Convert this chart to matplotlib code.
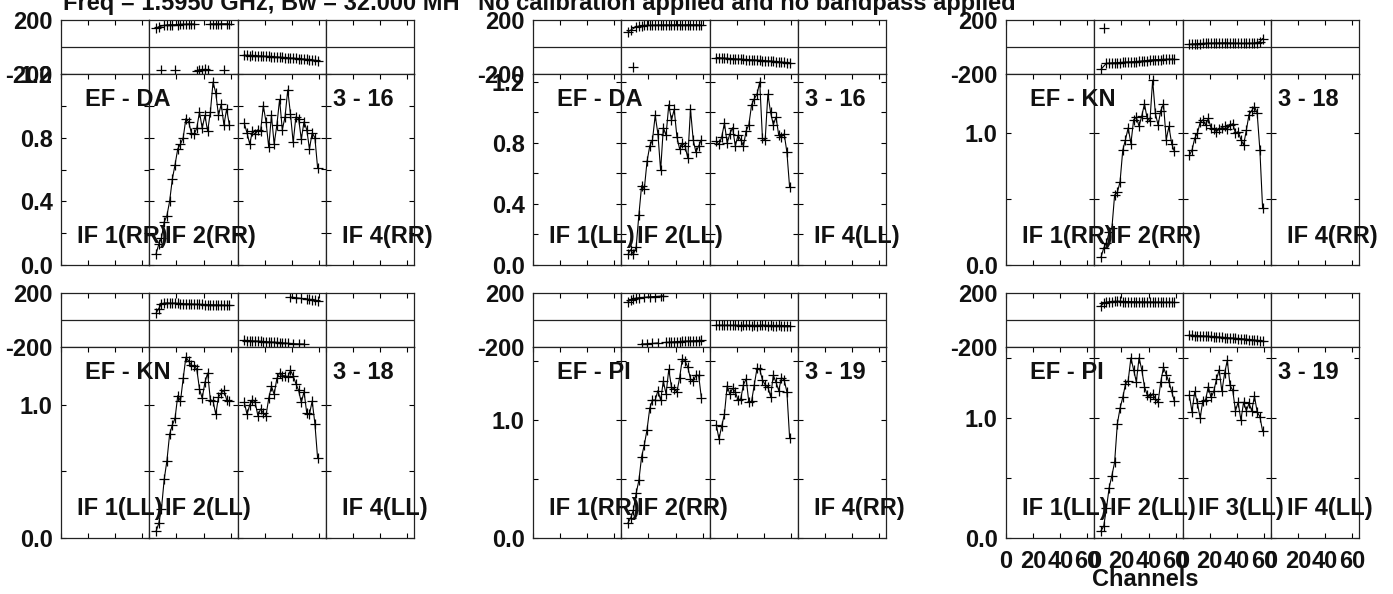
import numpy as np
import matplotlib
matplotlib.use("Agg")
import matplotlib.pyplot as plt

W, H = 1393, 594
FONT = ["Liberation Sans", "DejaVu Sans"]
plt.rcParams["font.family"] = FONT
plt.rcParams["font.weight"] = "bold"
FS = 17
INK = "#111111"
EDGE = "#222222"

# channel numbers sampled in every IF
CHANNELS = [5, 7, 9, 11, 13, 15, 17, 19, 21, 23, 25, 27, 29, 31,
            33, 35, 37, 39, 41, 43, 45, 47, 49, 51, 53, 55, 57, 59]

# EF - DA, RR
AMP_DA_RR_IF2 = [0.07, 0.13, 0.17, 0.27, 0.31, 0.40, 0.54, 0.63, 0.73, 0.76, 0.80, 0.92, 0.90, 0.83,
                 0.82, 0.86, 0.96, 0.86, 0.94, 0.84, 0.96, 1.15, 1.08, 0.94, 1.01, 0.88, 0.98, 0.88]
AMP_DA_RR_IF3 = [0.89, 0.83, 0.76, 0.84, 0.82, 0.85, 0.84, 1.00, 0.90, 0.74, 0.94, 0.76, 0.88, 1.04,
                 0.85, 0.93, 1.10, 0.95, 0.77, 0.93, 0.92, 0.79, 0.90, 0.85, 0.73, 0.83, 0.80, 0.61]
PH_DA_RR_IF2 = [140, 150, -172, 160, 163, 165, 165, -172, 165, 168, 168, 168, 170, 170,
                170, -175, -168, -170, -165, -170, 172, 170, 172, 170, 172, -172, 172, 170]
PH_DA_RR_IF3 = [-60, -62, -63, -62, -65, -66, -66, -68, -70, -70, -72, -73, -74, -76,
                -77, -79, -80, -82, -83, -85, -86, -88, -90, -92, -94, -96, -99, -105]

# EF - DA, LL
AMP_DA_LL_IF2 = [0.07, 0.10, 0.07, 0.12, 0.33, 0.52, 0.50, 0.68, 0.78, 0.82, 0.98, 0.86, 0.62, 0.90,
                 0.85, 1.05, 0.95, 1.02, 0.84, 0.76, 0.80, 0.78, 0.70, 1.02, 0.82, 0.74, 0.78, 0.82]
AMP_DA_LL_IF3 = [0.81, 0.79, 0.84, 0.93, 0.80, 0.86, 0.90, 0.78, 0.85, 0.82, 0.78, 0.88, 0.92, 1.05,
                 1.09, 1.12, 1.20, 0.83, 0.82, 1.12, 1.00, 0.92, 0.97, 0.85, 0.84, 0.86, 0.74, 0.51]
PH_DA_LL_IF2 = [112, 125, -146, 150, 155, 158, 160, 160, 160, 162, 162, 163, 163, 163,
                164, 163, 164, 164, 165, 165, 163, 164, 165, 165, 164, 165, 163, 163]
PH_DA_LL_IF3 = [-78, -80, -82, -83, -84, -86, -87, -88, -90, -90, -92, -93, -94, -95,
                -96, -98, -99, -100, -102, -103, -104, -106, -108, -110, -112, -114, -116, -118]

# EF - KN, RR
AMP_KN_RR_IF2 = [0.06, 0.13, 0.17, 0.25, 0.28, 0.53, 0.55, 0.63, 0.87, 0.95, 1.04, 0.92, 1.10, 1.12,
                 1.05, 1.13, 1.22, 1.11, 1.09, 1.40, 1.15, 1.06, 1.17, 1.22, 0.95, 1.05, 0.92, 0.86]
AMP_KN_RR_IF3 = [0.83, 0.87, 0.96, 1.00, 1.08, 1.10, 1.06, 1.11, 1.04, 1.03, 1.01, 1.03, 1.04, 1.05,
                 1.03, 1.06, 1.07, 1.00, 1.01, 0.95, 0.91, 1.02, 1.14, 1.17, 1.20, 1.15, 0.87, 0.43]
PH_KN_RR_IF2 = [-165, 143, -120, -120, -118, -117, -116, -115, -114, -112, -112, -110, -109, -108,
                -106, -104, -102, -100, -97, -95, -94, -93, -93, -92, -92, -91, -91, -90]
PH_KN_RR_IF3 = [20, 22, 23, 25, 25, 26, 27, 28, 28, 29, 29, 30, 30, 31,
                30, 29, 29, 28, 28, 27, 27, 27, 28, 28, 29, 32, 40, 62]

# EF - KN, LL
AMP_KN_LL_IF2 = [0.05, 0.11, 0.22, 0.44, 0.58, 0.78, 0.85, 0.90, 1.07, 1.03, 1.20, 1.36, 1.33, 1.30,
                 1.29, 1.27, 1.12, 1.05, 1.17, 1.24, 1.04, 1.03, 0.93, 1.06, 1.09, 1.11, 1.04, 1.03]
AMP_KN_LL_IF3 = [1.02, 0.93, 1.00, 1.04, 1.02, 0.92, 0.97, 0.94, 0.92, 1.05, 1.14, 1.08, 1.20, 1.24,
                 1.22, 1.22, 1.21, 1.26, 1.22, 1.16, 1.11, 1.02, 1.10, 0.94, 0.93, 1.03, 0.86, 0.60]
PH_KN_LL_IF2 = [50, 85, 118, 125, 126, 125, 124, 124, 123, 122, 120, 120, 119, 118,
                117, 116, 115, 115, 114, 113, 113, 112, 112, 111, 110, 110, 108, 108]
PH_KN_LL_IF3 = [-150, -152, -153, -155, -156, -157, -158, -160, -161, -162, -164, -165, -166, -168,
                -170, -171, -173, 170, -175, 165, -177, 160, -178, 155, 152, 150, 148, 140]

# EF - PI, RR
AMP_PI_RR_IF2 = [0.13, 0.17, 0.24, 0.38, 0.49, 0.69, 0.79, 0.92, 1.10, 1.17, 1.17, 1.25, 1.17, 1.33,
                 1.22, 1.43, 1.28, 1.26, 1.24, 1.36, 1.52, 1.50, 1.45, 1.35, 1.33, 1.38, 1.38, 1.19]
AMP_PI_RR_IF3 = [0.96, 0.84, 0.95, 1.05, 1.29, 1.22, 1.27, 1.24, 1.17, 1.18, 1.30, 1.35, 1.15, 1.16,
                 1.30, 1.44, 1.43, 1.34, 1.30, 1.28, 1.20, 1.38, 1.32, 1.25, 1.36, 1.34, 1.24, 0.85]
PH_PI_RR_IF2 = [135, 150, 158, 162, 165, -178, 168, -176, 172, -174, 174, -170, 176, 178,
                -166, -165, -163, -162, -160, -160, -158, -157, -156, -155, -154, -153, -152, -150]
PH_PI_RR_IF3 = [-38, -39, -39, -40, -39, -40, -40, -39, -40, -41, -40, -39, -40, -41,
                -40, -41, -40, -39, -40, -41, -40, -41, -41, -40, -41, -42, -41, -42]

# EF - PI, LL
AMP_PI_LL_IF2 = [0.06, 0.10, 0.25, 0.42, 0.52, 0.63, 0.95, 1.08, 1.17, 1.28, 1.31, 1.50, 1.40, 1.30,
                 1.50, 1.40, 1.26, 1.19, 1.17, 1.20, 1.16, 1.13, 1.30, 1.42, 1.36, 1.30, 1.22, 1.14]
AMP_PI_LL_IF3 = [1.19, 1.05, 1.22, 1.12, 1.00, 1.14, 1.15, 1.26, 1.17, 1.22, 1.32, 1.40, 1.22, 1.37,
                 1.48, 1.27, 1.23, 1.06, 1.13, 0.98, 1.13, 1.06, 1.12, 1.06, 1.18, 1.05, 1.01, 0.89]
PH_PI_LL_IF2 = [105, 125, 132, 135, 137, 138, 138, 138, 137, 137, 136, 136, 135, 135,
                134, 134, 134, 133, 133, 133, 132, 132, 132, 131, 131, 132, 131, 130]
PH_PI_LL_IF3 = [-112, -113, -115, -116, -117, -118, -120, -121, -122, -124, -125, -127, -128, -130,
                -131, -133, -134, -136, -138, -139, -141, -143, -145, -147, -149, -151, -153, -156]

X_TICKS = [0, 20, 40, 60]
X_TICK_LABELS = ["0", "20", "40", "60"]

# layout (pixels)
GROUP_X = [61, 533, 1006]
ROW_Y = [20, 293]
IF_W = 88.25
PHASE_H = 54
AMP_H = 191

PANELS = [
    dict(row=0, col=0, base="EF - DA", num="3 - 16", pol="RR", ytop=1.20, step=0.2, labels=[0.0, 0.4, 0.8, 1.2],
         ifs=[1, 2, 4], amp=(AMP_DA_RR_IF2, AMP_DA_RR_IF3), ph=(PH_DA_RR_IF2, PH_DA_RR_IF3)),
    dict(row=0, col=1, base="EF - DA", num="3 - 16", pol="LL", ytop=1.252, step=0.2, labels=[0.0, 0.4, 0.8, 1.2],
         ifs=[1, 2, 4], amp=(AMP_DA_LL_IF2, AMP_DA_LL_IF3), ph=(PH_DA_LL_IF2, PH_DA_LL_IF3)),
    dict(row=0, col=2, base="EF - KN", num="3 - 18", pol="RR", ytop=1.447, step=0.5, labels=[0.0, 1.0],
         ifs=[1, 2, 4], amp=(AMP_KN_RR_IF2, AMP_KN_RR_IF3), ph=(PH_KN_RR_IF2, PH_KN_RR_IF3)),
    dict(row=1, col=0, base="EF - KN", num="3 - 18", pol="LL", ytop=1.436, step=0.5, labels=[0.0, 1.0],
         ifs=[1, 2, 4], amp=(AMP_KN_LL_IF2, AMP_KN_LL_IF3), ph=(PH_KN_LL_IF2, PH_KN_LL_IF3)),
    dict(row=1, col=1, base="EF - PI", num="3 - 19", pol="RR", ytop=1.62, step=0.5, labels=[0.0, 1.0],
         ifs=[1, 2, 4], amp=(AMP_PI_RR_IF2, AMP_PI_RR_IF3), ph=(PH_PI_RR_IF2, PH_PI_RR_IF3)),
    dict(row=1, col=2, base="EF - PI", num="3 - 19", pol="LL", ytop=1.59, step=0.5, labels=[0.0, 1.0],
         ifs=[1, 2, 3, 4], amp=(AMP_PI_LL_IF2, AMP_PI_LL_IF3), ph=(PH_PI_LL_IF2, PH_PI_LL_IF3)),
]


def px_axes(fig, x, y, w, h):
    return fig.add_axes([x / W, 1 - (y + h) / H, w / W, h / H])


def fig_text(fig, x, y, s, **kw):
    fig.text(x / W, 1 - y / H, s, fontsize=FS, fontweight="bold", color=INK, **kw)


def style_box(ax):
    for sp in ax.spines.values():
        sp.set_linewidth(0.9)
        sp.set_color(EDGE)
    ax.set_xlim(0, 65)
    ax.set_xticks(X_TICKS)


def phase_segments(ch, ph):
    # keep the +180 and -180 branches apart, and break long gaps
    out = []
    for sign in (1, -1):
        pts = [(c, p) for c, p in zip(ch, ph) if p * sign > 0]
        xs, ys = [], []
        for i, (c, p) in enumerate(pts):
            if i and c - pts[i - 1][0] > 4:
                xs.append(np.nan)
                ys.append(np.nan)
            xs.append(c)
            ys.append(p)
        if xs:
            out.append((xs, ys))
    return out


fig = plt.figure(figsize=(W / 100, H / 100), dpi=100)
fig.patch.set_facecolor("white")

mk = dict(color="black", lw=0.8, marker="+", ms=7, mew=0.9)

for pn in PANELS:
    gx = GROUP_X[pn["col"]]
    gy = ROW_Y[pn["row"]]
    last = pn["row"] == 1 and pn["col"] == 2
    for k in range(4):
        x = gx + k * IF_W
        axp = px_axes(fig, x, gy, IF_W, PHASE_H)
        axa = px_axes(fig, x, gy + PHASE_H, IF_W, AMP_H)
        style_box(axp)
        style_box(axa)

        # phase box
        axp.set_ylim(-200, 200)
        axp.axhline(0, color=EDGE, lw=0.9)
        axp.tick_params(axis="x", direction="in", length=3.5, width=0.8, top=True, bottom=False,
                        labelbottom=False, labeltop=False)
        if k == 0:
            axp.set_yticks([-200, 200])
            axp.set_yticklabels(["-200", "200"])
            axp.tick_params(axis="y", length=0, pad=6, labelsize=FS, labelcolor=INK)
        else:
            axp.set_yticks([])

        # amplitude box
        axa.set_ylim(0, pn["ytop"])
        ticks = np.arange(0, pn["ytop"] + 1e-6, pn["step"])
        axa.set_yticks(ticks)
        if k == 0:
            axa.set_yticklabels([f"{t:.1f}" if any(abs(t - l) < 1e-6 for l in pn["labels"]) else "" for t in ticks])
        axa.tick_params(axis="y", direction="in", length=3.5, width=0.8, left=True, right=True,
                        labelleft=(k == 0), pad=6, labelsize=FS, labelcolor=INK)
        axa.tick_params(axis="x", direction="in", length=3.5, width=0.8, top=True, bottom=True,
                        labelbottom=last, pad=8.5, labelsize=FS, labelcolor=INK)
        if last:
            axa.set_xticklabels(X_TICK_LABELS)

        if k in (1, 2):
            amp = pn["amp"][k - 1]
            ph = pn["ph"][k - 1]
            axa.plot(CHANNELS, amp, **mk)
            axa.set_ylim(0, pn["ytop"])
            for xs, ys in phase_segments(CHANNELS, ph):
                axp.plot(xs, ys, **mk)
            axp.set_ylim(-200, 200)

    # panel annotations
    ay = gy + PHASE_H
    fig_text(fig, gx + 24, ay + 25.5, pn["base"], ha="left", va="center")
    fig_text(fig, gx + 272, ay + 25.5, pn["num"], ha="left", va="center")
    for i in pn["ifs"]:
        fig_text(fig, gx + (i - 1) * IF_W + 16, ay + AMP_H - 29, f"IF {i}({pn['pol']})", ha="left", va="center")

fig_text(fig, 63, 10, "Freq = 1.5950 GHz, Bw = 32.000 MH", ha="left", va="baseline")
fig_text(fig, 478, 10, "No calibration applied and no bandpass applied", ha="left", va="baseline")
fig_text(fig, 1145, 579, "Channels", ha="center", va="center")

fig.savefig("out.png", dpi=100)
